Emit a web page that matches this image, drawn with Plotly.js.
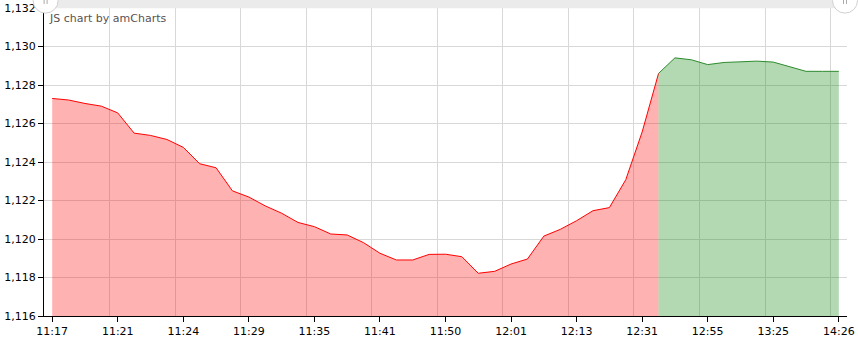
<!DOCTYPE html>
<html>
<head>
<meta charset="utf-8">
<script src="https://cdn.plot.ly/plotly-3.0.1.min.js"></script>
<style>
html,body{margin:0;padding:0;background:#fff;}
#chart{width:858px;height:340px;}
</style>
</head>
<body>
<div id="chart"></div>
<script>
// Price series (one value per time step, equally spaced category axis)
const prices = [
  1127.30, 1127.22, 1127.04, 1126.90, 1126.55, 1125.50, 1125.38, 1125.17,
  1124.76, 1123.91, 1123.70, 1122.50, 1122.18, 1121.72, 1121.34, 1120.86,
  1120.64, 1120.26, 1120.21, 1119.81, 1119.26, 1118.91, 1118.91, 1119.20,
  1119.21, 1119.08, 1118.22, 1118.32, 1118.70, 1118.96, 1120.15, 1120.50,
  1120.95, 1121.47, 1121.63, 1123.08, 1125.56, 1128.60, 1129.41, 1129.31,
  1129.06, 1129.17, 1129.19, 1129.24, 1129.19, 1128.97, 1128.71, 1128.71,
  1128.71
];
// index where the series turns from red to green
const greenStart = 37;
// tick labels (every 4th category)
const tickLabels = ['11:17','11:21','11:24','11:29','11:35','11:41','11:50',
                    '12:01','12:13','12:31','12:55','13:25','14:26'];
const labelStep = 4;
const yTicks = [1116, 1118, 1120, 1122, 1124, 1126, 1128, 1130, 1132];

const idx = prices.map((_, i) => i);
const redX = idx.slice(0, greenStart + 1);
const redY = prices.slice(0, greenStart + 1);
const greenX = idx.slice(greenStart);
const greenY = prices.slice(greenStart);

const tickVals = tickLabels.map((_, i) => i * labelStep);
const gridVals = tickLabels.slice(1).map((_, i) => (i + 1) * labelStep - 0.5);

const font = {family: 'DejaVu Sans, Verdana, sans-serif', size: 11, color: '#000'};
const xRange = [-0.5, prices.length - 0.5];

const traces = [
  {
    x: redX, y: redY, type: 'scatter', mode: 'lines',
    line: {color: '#ff0000', width: 1},
    fill: 'tozeroy', fillcolor: 'rgba(255,0,0,0.3)',
    hoverinfo: 'skip', xaxis: 'x', yaxis: 'y'
  },
  {
    x: greenX, y: greenY, type: 'scatter', mode: 'lines',
    line: {color: '#2e8b2e', width: 1},
    fill: 'tozeroy', fillcolor: 'rgba(0,128,0,0.3)',
    hoverinfo: 'skip', xaxis: 'x2', yaxis: 'y'
  }
];

const layout = {
  width: 858, height: 340,
  margin: {l: 44, r: 11, t: 8, b: 24},
  paper_bgcolor: '#fff', plot_bgcolor: '#fff',
  showlegend: false,
  font: font,
  xaxis: {
    range: xRange, tickmode: 'array', tickvals: gridVals,
    showticklabels: false, ticks: '', showgrid: true,
    gridcolor: '#d8d8d8', gridwidth: 1, zeroline: false, showline: false
  },
  xaxis2: {
    overlaying: 'x', anchor: 'y', side: 'bottom',
    range: xRange, tickmode: 'array', tickvals: tickVals, ticktext: tickLabels,
    ticks: 'outside', ticklen: 5, tickcolor: '#000', tickwidth: 1,
    showgrid: false, zeroline: false,
    showline: true, linecolor: '#000', linewidth: 1,
    tickfont: font
  },
  yaxis: {
    range: [1116, 1132], tickmode: 'array', tickvals: yTicks,
    tickformat: ',d',
    ticks: 'outside', ticklen: 5, tickcolor: '#000', tickwidth: 1,
    showgrid: true, gridcolor: '#d8d8d8', gridwidth: 1, zeroline: false,
    showline: true, linecolor: '#000', linewidth: 1,
    tickfont: font
  },
  annotations: [
    {
      text: 'JS chart by amCharts', xref: 'paper', yref: 'paper',
      x: 0.004, y: 0.967, xanchor: 'left', yanchor: 'middle',
      showarrow: false,
      font: {family: 'DejaVu Sans, Verdana, sans-serif', size: 11, color: '#5a5252'}
    }
  ],
  shapes: [
    // scrollbar band
    {type: 'rect', xref: 'paper', yref: 'paper', x0: 0, x1: 1, y0: 0.999, y1: 1.03,
     fillcolor: '#ebebeb', line: {width: 0}, layer: 'above'},
    // left handle
    {type: 'circle', xref: 'paper', yref: 'paper', xsizemode: 'pixel', ysizemode: 'pixel',
     xanchor: 0.002, yanchor: 1.024, x0: -12.5, x1: 12.5, y0: -12.5, y1: 12.5,
     fillcolor: '#fff', line: {color: '#d0d0d0', width: 1}, layer: 'above'},
    // right handle
    {type: 'circle', xref: 'paper', yref: 'paper', xsizemode: 'pixel', ysizemode: 'pixel',
     xanchor: 0.9975, yanchor: 1.024, x0: -12.5, x1: 12.5, y0: -12.5, y1: 12.5,
     fillcolor: '#fff', line: {color: '#d0d0d0', width: 1}, layer: 'above'},
    // grips
    {type: 'line', xref: 'paper', yref: 'paper', xsizemode: 'pixel', ysizemode: 'pixel',
     xanchor: 0.002, yanchor: 1.026, x0: -1.5, x1: -1.5, y0: 0, y1: -4,
     line: {color: '#aaa', width: 1}, layer: 'above'},
    {type: 'line', xref: 'paper', yref: 'paper', xsizemode: 'pixel', ysizemode: 'pixel',
     xanchor: 0.002, yanchor: 1.026, x0: 1.5, x1: 1.5, y0: 0, y1: -4,
     line: {color: '#aaa', width: 1}, layer: 'above'},
    {type: 'line', xref: 'paper', yref: 'paper', xsizemode: 'pixel', ysizemode: 'pixel',
     xanchor: 0.9975, yanchor: 1.026, x0: -1.5, x1: -1.5, y0: 0, y1: -4,
     line: {color: '#aaa', width: 1}, layer: 'above'},
    {type: 'line', xref: 'paper', yref: 'paper', xsizemode: 'pixel', ysizemode: 'pixel',
     xanchor: 0.9975, yanchor: 1.026, x0: 1.5, x1: 1.5, y0: 0, y1: -4,
     line: {color: '#aaa', width: 1}, layer: 'above'}
  ]
};

Plotly.newPlot('chart', traces, layout, {displayModeBar: false, staticPlot: true});
</script>
</body>
</html>
